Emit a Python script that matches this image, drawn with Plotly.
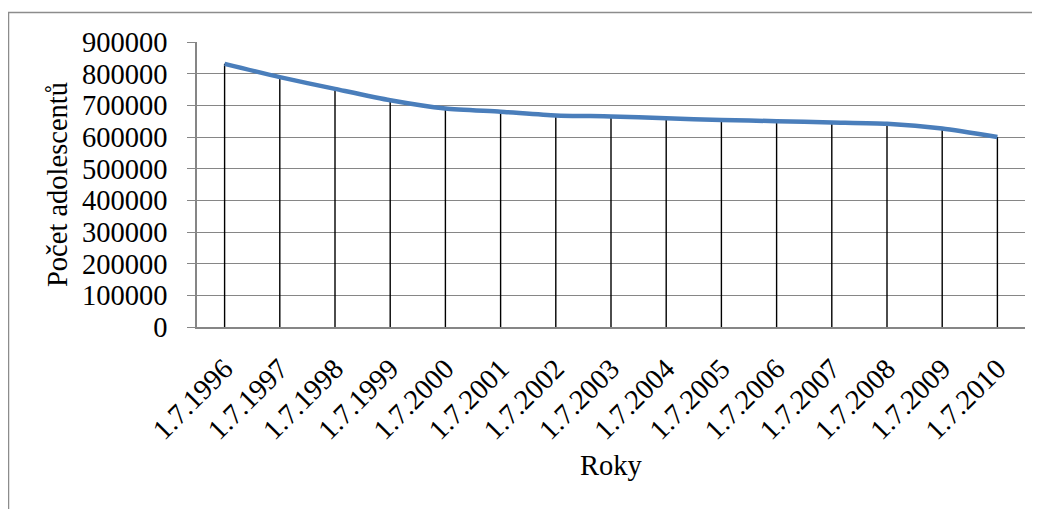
import plotly.graph_objects as go

years = ["1.7.1996", "1.7.1997", "1.7.1998", "1.7.1999", "1.7.2000", "1.7.2001",
         "1.7.2002", "1.7.2003", "1.7.2004", "1.7.2005", "1.7.2006", "1.7.2007",
         "1.7.2008", "1.7.2009", "1.7.2010"]
adolescents = [831000, 789000, 752000, 716000, 690000, 680000, 668000, 665000,
               659000, 654000, 650000, 646000, 642000, 627000, 600000]
y_ticks = [0, 100000, 200000, 300000, 400000, 500000, 600000, 700000, 800000, 900000]

FONT = "Liberation Serif, Times New Roman, serif"
FS = 28.5

# drop lines built from the data
drop_x, drop_y = [], []
for c, v in zip(years, adolescents):
    drop_x += [c, c, None]
    drop_y += [0, v, None]

fig = go.Figure()
fig.add_trace(go.Scatter(x=drop_x, y=drop_y, mode="lines",
                         line=dict(color="black", width=1.4),
                         hoverinfo="skip", showlegend=False))
fig.add_trace(go.Scatter(x=years, y=adolescents, mode="lines",
                         line=dict(color="#4A7EBB", width=4.5, shape="spline", smoothing=0.6),
                         showlegend=False))

OFF = 8  # page body margin
L, R, T, B = 197 - OFF, 23, 42 - OFF, 190
W, H = 1040, 509
pw, ph = W - L - R, H - T - B

fig.update_layout(
    width=W, height=H,
    margin=dict(l=L, r=R, t=T, b=B, autoexpand=False),
    paper_bgcolor="white", plot_bgcolor="white",
    font=dict(family=FONT, size=FS, color="black"),
    xaxis=dict(type="category", categoryorder="array", categoryarray=years,
               range=[-0.5, len(years) - 0.5],
               tickangle=-45, showgrid=False, showline=True, linecolor="#868686",
               linewidth=1.5, ticks="", tickfont=dict(family=FONT, size=FS),
               ticklabelstandoff=12, automargin=False,
               title=dict(text="Roky", font=dict(family=FONT, size=FS), standoff=10)),
    yaxis=dict(range=[0, 900000], tickvals=y_ticks, ticktext=[str(v) for v in y_ticks],
               showgrid=True, gridcolor="#868686", gridwidth=1.3,
               showline=True, linecolor="#868686", linewidth=1.5,
               ticks="outside", ticklen=8, tickcolor="#868686", tickwidth=1.3,
               zeroline=False, tickfont=dict(family=FONT, size=FS),
               ticklabelstandoff=14, automargin=False,
               title=dict(text="Počet adolescentů", font=dict(family=FONT, size=FS), standoff=6)),
    shapes=[dict(type="rect", xref="paper", yref="paper",
                 x0=(0.5 - L) / pw, x1=1.5, y0=-1.5, y1=(H - B - 4.5) / ph,
                 line=dict(color="#8c8c8c", width=1.5), fillcolor="rgba(0,0,0,0)",
                 layer="below")],
)

fig.write_html("out.html")
